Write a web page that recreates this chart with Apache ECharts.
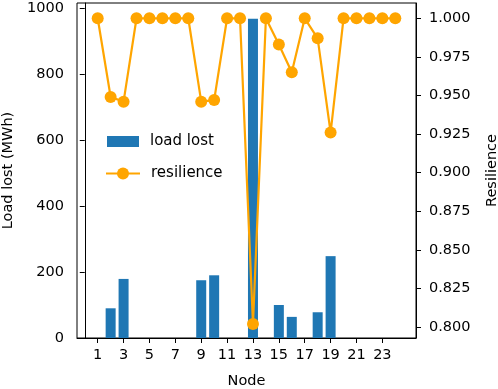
<!DOCTYPE html>
<html>
<head>
<meta charset="utf-8">
<script src="https://cdn.jsdelivr.net/npm/echarts@6/dist/echarts.min.js"></script>
<style>
  html, body { margin: 0; padding: 0; background: #fff; }
  #chart { width: 498px; height: 389px; }
</style>
</head>
<body>
<div id="chart"></div>
<script>
  // Data
  const nodes = [1, 2, 3, 4, 5, 6, 7, 8, 9, 10, 11, 12, 13, 14, 15, 16, 17, 18, 19, 20, 21, 22, 23, 24];
  const loadLost = [0, 90, 179, 0, 0, 0, 0, 0, 175, 190, 0, 0, 967, 0, 100, 64, 0, 78, 248, 0, 0, 0, 0, 0];
  const resilience = [1.0, 0.949, 0.946, 1.0, 1.0, 1.0, 1.0, 1.0, 0.946, 0.947, 1.0, 1.0, 0.802, 1.0,
                      0.983, 0.965, 1.0, 0.987, 0.926, 1.0, 1.0, 1.0, 1.0, 1.0];
  const xTicks = [1, 3, 5, 7, 9, 11, 13, 15, 17, 19, 21, 23];
  const leftTicks = [0, 200, 400, 600, 800, 1000];
  const rightTicks = [0.8, 0.825, 0.85, 0.875, 0.9, 0.925, 0.95, 0.975, 1.0];

  const COL_BAR = "#1f77b4";
  const COL_LINE = "#ffa500";
  const FONT = "DejaVu Sans";
  const FS = 14.5;

  const chart = echarts.init(document.getElementById("chart"), null, { renderer: "canvas" });

  const tickStyle = { show: true, length: 5, inside: false, lineStyle: { color: "#000", width: 1 } };
  const labelBase = { color: "#000", fontSize: FS, fontFamily: FONT };
  const legendText = { color: "#000", fontSize: 15, fontFamily: FONT, padding: [0, 0, 0, 6] };

  chart.setOption({
    animation: false,
    backgroundColor: "#fff",
    grid: {
      left: 77, right: 82, top: 3, bottom: 51,
      outerBoundsMode: "none",
      show: true, borderColor: "#000", borderWidth: 1, backgroundColor: "transparent"
    },
    // two legends so the bar patch and the line+marker can have their own heights
    legend: [
      {
        left: 102, top: 129,
        itemWidth: 32, itemHeight: 11,
        icon: "rect",
        textStyle: legendText,
        data: ["load lost"]
      },
      {
        left: 100, top: 161,
        itemWidth: 34, itemHeight: 15,
        textStyle: legendText,
        data: ["resilience"]
      }
    ],
    xAxis: {
      type: "value",
      min: -0.6, max: 25.6,
      name: "Node", nameLocation: "middle", nameGap: 36,
      nameTextStyle: labelBase,
      axisLine: { show: true, onZero: false, lineStyle: { color: "#000", width: 1 } },
      axisTick: Object.assign({ customValues: xTicks }, tickStyle),
      axisLabel: Object.assign({ customValues: xTicks, margin: 10 }, labelBase),
      splitLine: { show: false }
    },
    yAxis: [
      {
        type: "value",
        min: 0, max: 1015,
        name: "Load lost (MWh)", nameLocation: "middle", nameGap: 57,
        nameTextStyle: labelBase,
        axisLine: { show: true, lineStyle: { color: "#000", width: 1 } },
        axisTick: Object.assign({ customValues: leftTicks }, tickStyle),
        axisLabel: Object.assign({
          customValues: leftTicks, margin: 13,
          formatter: v => String(v)
        }, labelBase),
        splitLine: { show: false }
      },
      {
        type: "value",
        position: "right",
        min: 0.7929, max: 1.0099,
        name: "Resilience", nameLocation: "middle", nameGap: 69,
        nameRotate: 90,
        nameTextStyle: labelBase,
        axisLine: { show: true, lineStyle: { color: "#000", width: 1 } },
        axisTick: Object.assign({ customValues: rightTicks }, tickStyle),
        axisLabel: Object.assign({
          customValues: rightTicks, margin: 13,
          formatter: v => Number(v).toFixed(3)
        }, labelBase),
        splitLine: { show: false }
      }
    ],
    series: [
      {
        name: "load lost",
        type: "bar",
        yAxisIndex: 0,
        barWidth: 10,
        itemStyle: { color: COL_BAR },
        data: nodes.map((n, i) => [n, loadLost[i]])
      },
      {
        name: "resilience",
        type: "line",
        yAxisIndex: 1,
        symbol: "circle",
        symbolSize: 12,
        z: 5,
        lineStyle: { color: COL_LINE, width: 2.2 },
        itemStyle: { color: COL_LINE },
        data: nodes.map((n, i) => [n, resilience[i]])
      }
    ]
  });
</script>
</body>
</html>
